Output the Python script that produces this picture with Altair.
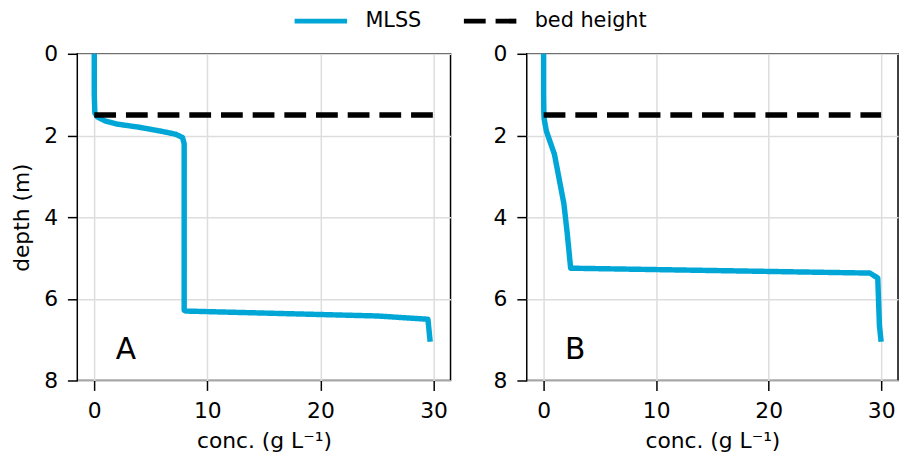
import altair as alt
import pandas as pd

# ---- data ----
panels = ["A", "B"]
series_names = ["MLSS", "bed height"]

A_depth = [0.0, 1.0, 1.45, 1.55, 1.65, 1.72, 1.8, 1.9, 1.97, 2.05, 2.2, 6.28, 6.3, 6.42, 6.5, 7.05]
A_conc = [0.0, 0.0, 0.05, 0.3, 1.0, 2.0, 4.0, 6.0, 7.2, 7.8, 7.95, 7.95, 8.1, 25.0, 29.5, 29.7]

B_depth = [0.0, 1.0, 1.45, 1.6, 1.89, 2.46, 3.67, 4.4, 5.25, 5.37, 5.49, 6.66, 7.05]
B_conc = [0.0, 0.0, 0.02, 0.05, 0.24, 0.96, 1.8, 2.1, 2.4, 29.0, 29.7, 29.85, 30.0]

bed_depth = 1.5
bed_conc = [0.0, 30.0]

x_ticks = [0, 10, 20, 30]
y_ticks = [0, 2, 4, 6, 8]

BLUE = "#00A6D6"
FONT = "DejaVu Sans"


def make_legend():
    return alt.Legend(
        title=None,
        orient="none",
        direction="horizontal",
        legendX=217,
        legendY=-62,
        symbolType="stroke",
        symbolSize=2809,
        symbolStrokeWidth=5,
        labelFontSize=21,
        labelFont=FONT,
        labelOffset=16,
        columnPadding=32,
        labelColor="black",
    )


def panel_chart(label, depth, conc, show_ytitle, width):
    rows = []
    for i, (d, c) in enumerate(zip(depth, conc)):
        rows.append({"series": "MLSS", "depth": d, "conc": c, "order": i})
    for i, c in enumerate(bed_conc):
        rows.append({"series": "bed height", "depth": bed_depth, "conc": c, "order": i})
    df = pd.DataFrame(rows)

    x = alt.X(
        "conc:Q",
        scale=alt.Scale(domain=[-1.5, 31.5], nice=False, zero=False),
        axis=alt.Axis(values=x_ticks, title="conc. (g L⁻¹)", format="d"),
    )
    if show_ytitle:
        y = alt.Y(
            "depth:Q",
            scale=alt.Scale(domain=[0, 8], reverse=True, nice=False),
            axis=alt.Axis(values=y_ticks, title="depth (m)", format="d"),
        )
    else:
        y = alt.Y(
            "depth:Q",
            scale=alt.Scale(domain=[0, 8], reverse=True, nice=False),
            axis=alt.Axis(values=y_ticks, format="d"),
            title=None,
        )

    lines = alt.Chart(df).mark_line(strokeWidth=5.5, strokeCap="butt", strokeJoin="round").encode(
        x=x,
        y=y,
        color=alt.Color(
            "series:N",
            scale=alt.Scale(domain=series_names, range=[BLUE, "black"]),
            legend=make_legend(),
        ),
        strokeDash=alt.StrokeDash(
            "series:N",
            scale=alt.Scale(domain=series_names, range=[[1, 0], [22, 10]]),
            legend=make_legend(),
        ),
        detail="series:N",
        order="order:Q",
    )

    txt = alt.Chart(pd.DataFrame({"label": [label]})).mark_text(
        fontSize=30, font=FONT, align="center", baseline="middle", color="black"
    ).encode(x=alt.value(49), y=alt.value(299), text="label:N")

    return alt.layer(lines, txt).properties(width=width, height=330)


chartA = panel_chart(panels[0], A_depth, A_conc, True, 377)
chartB = panel_chart(panels[1], B_depth, B_conc, False, 375)

chart = (
    alt.hconcat(chartA, chartB, spacing=41)
    .properties(padding={"left": 2, "top": -18, "right": 0, "bottom": 0})
    .configure_view(stroke="black", strokeWidth=1.5)
    .configure_axis(
        domain=False,
        grid=True,
        gridColor="#dddddd",
        gridWidth=1.5,
        tickColor="black",
        tickWidth=1.5,
        tickSize=10,
        labelFont=FONT,
        labelFontSize=22,
        labelColor="black",
        labelPadding=10,
        titleFont=FONT,
        titleFontSize=22,
        titleFontWeight="normal",
        titleColor="black",
        titlePadding=10,
    )
)

chart.save("out.html", embed_options={"renderer": "svg", "actions": False})
